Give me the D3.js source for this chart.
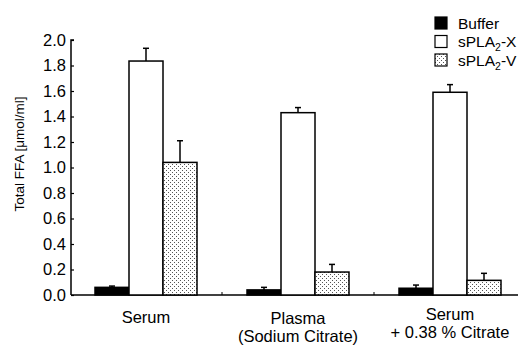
<!DOCTYPE html>
<html>
<head>
<meta charset="utf-8">
<script src="https://cdn.jsdelivr.net/npm/d3@7"></script>
<style>
  body { margin: 0; background: #fff; }
  text { font-family: "Liberation Sans", Arial, sans-serif; fill: #000; }
</style>
</head>
<body>
<div id="chart"></div>
<script>
// data
var groups = ["Serum", "Plasma", "Citrate"];
var groupLabels = [["Serum"], ["Plasma", "(Sodium Citrate)"], ["Serum", "+ 0.38 % Citrate"]];
var keys = ["Buffer", "sPLA2-X", "sPLA2-V"];
var bufferVals = [0.06, 0.04, 0.053];
var bufferErr = [0.01, 0.02, 0.025];
var xVals = [1.835, 1.43, 1.59];
var xErr = [0.10, 0.04, 0.06];
var vVals = [1.04, 0.18, 0.115];
var vErr = [0.17, 0.06, 0.055];
var yTicks = [0, 0.2, 0.4, 0.6, 0.8, 1.0, 1.2, 1.4, 1.6, 1.8, 2.0];

var width = 518, height = 345;

var svg = d3.select("#chart")
    .append("svg")
    .attr("width", width)
    .attr("height", height);

// dotted pattern for sPLA2-V
var defs = svg.append("defs");
var pat = defs.append("pattern")
    .attr("id", "dots")
    .attr("patternUnits", "userSpaceOnUse")
    .attr("width", 4)
    .attr("height", 4);
pat.append("rect").attr("width", 4).attr("height", 4).attr("fill", "#fff");
pat.append("rect").attr("x", 0).attr("y", 0).attr("width", 1).attr("height", 1).attr("fill", "#555");
pat.append("rect").attr("x", 2).attr("y", 2).attr("width", 1).attr("height", 1).attr("fill", "#555");

var fills = { "Buffer": "#000", "sPLA2-X": "#fff", "sPLA2-V": "url(#dots)" };

// build table
var rows = groups.map(function (g, i) {
    return [
        { group: g, key: "Buffer", value: bufferVals[i], err: bufferErr[i] },
        { group: g, key: "sPLA2-X", value: xVals[i], err: xErr[i] },
        { group: g, key: "sPLA2-V", value: vVals[i], err: vErr[i] }
    ];
});
var flat = [].concat.apply([], rows);

// scales
var x0 = d3.scaleBand()
    .domain(groups)
    .range([70, 526])
    .paddingInner(0)
    .paddingOuter(0);

var x1 = d3.scaleBand()
    .domain(keys)
    .range([x0.bandwidth() / 2 - 51, x0.bandwidth() / 2 + 51]);

var y = d3.scaleLinear()
    .domain([0, 2])
    .range([295, 40]);

// y axis
var yAxis = svg.append("g")
    .attr("transform", "translate(71,0)")
    .call(d3.axisRight(y).tickValues(yTicks).tickSize(3).tickFormat(d3.format(".1f")));
yAxis.select(".domain").attr("d", "M3," + y(2) + "H0V" + y(0)).attr("stroke-width", 1.5);
yAxis.selectAll(".tick line").attr("stroke-width", 1.2);
yAxis.selectAll(".tick text")
    .attr("x", -5)
    .attr("text-anchor", "end")
    .style("font-size", "16.5px")
    .style("font-family", "Liberation Sans, Arial, sans-serif");

// x axis line
svg.append("line")
    .attr("x1", 71).attr("x2", width)
    .attr("y1", y(0)).attr("y2", y(0))
    .attr("stroke", "#000").attr("stroke-width", 1.5);

// small separator ticks between groups
svg.selectAll("sepTicks")
    .data(groups.slice(1))
    .enter()
    .append("line")
    .attr("x1", function (d) { return x0(d); })
    .attr("x2", function (d) { return x0(d); })
    .attr("y1", y(0))
    .attr("y2", y(0) - 3)
    .attr("stroke", "#000")
    .attr("stroke-width", 1);

// error bars
var err = svg.append("g").selectAll("g")
    .data(flat)
    .enter()
    .append("g");
err.append("line")
    .attr("x1", function (d) { return x0(d.group) + x1(d.key) + x1.bandwidth() / 2; })
    .attr("x2", function (d) { return x0(d.group) + x1(d.key) + x1.bandwidth() / 2; })
    .attr("y1", function (d) { return y(d.value); })
    .attr("y2", function (d) { return y(d.value + d.err); })
    .attr("stroke", "#000")
    .attr("stroke-width", 1.5);
err.append("line")
    .attr("x1", function (d) { return x0(d.group) + x1(d.key) + x1.bandwidth() / 2 - 3; })
    .attr("x2", function (d) { return x0(d.group) + x1(d.key) + x1.bandwidth() / 2 + 3; })
    .attr("y1", function (d) { return y(d.value + d.err); })
    .attr("y2", function (d) { return y(d.value + d.err); })
    .attr("stroke", "#000")
    .attr("stroke-width", 1.5);

// bars
svg.append("g").selectAll("rect")
    .data(flat)
    .enter()
    .append("rect")
    .attr("x", function (d) { return x0(d.group) + x1(d.key); })
    .attr("y", function (d) { return y(d.value); })
    .attr("width", x1.bandwidth())
    .attr("height", function (d) { return y(0) - y(d.value); })
    .attr("fill", function (d) { return fills[d.key]; })
    .attr("stroke", "#000")
    .attr("stroke-width", 1.5);

// group labels
var lbl = svg.selectAll("groupLabels")
    .data(groups)
    .enter()
    .append("text")
    .attr("text-anchor", "middle")
    .style("font-size", "16.5px");
lbl.each(function (d, i) {
    var t = d3.select(this);
    var lines = groupLabels[i];
    var top = i == 0 ? 323 : (i == 1 ? 324 : 320);
    lines.forEach(function (s, j) {
        t.append("tspan")
            .attr("x", x0(d) + x0.bandwidth() / 2)
            .attr("y", top + j * 18)
            .text(s);
    });
});

// y title
svg.append("text")
    .attr("transform", "translate(24,154) rotate(-90)")
    .attr("text-anchor", "middle")
    .style("font-size", "13.5px")
    .text("Total FFA [\u03bcmol/ml]");

// legend
var legend = svg.selectAll("legendRows")
    .data(keys)
    .enter()
    .append("g")
    .attr("transform", function (d, i) { return "translate(435," + (17 + i * 18.5) + ")"; });
legend.append("rect")
    .attr("width", 12)
    .attr("height", 12)
    .attr("fill", function (d) { return fills[d]; })
    .attr("stroke", "#000")
    .attr("stroke-width", 1.2);
var ltext = legend.append("text")
    .attr("x", 23)
    .attr("y", 11.5)
    .style("font-size", "15.5px");
ltext.each(function (d) {
    var t = d3.select(this);
    if (d == "Buffer") {
        t.text(d);
    } else {
        t.append("tspan").text("sPLA");
        t.append("tspan").attr("dy", 4).style("font-size", "10.5px").text("2");
        t.append("tspan").attr("dy", -4).text(d.slice(5));
    }
});
</script>
</body>
</html>
